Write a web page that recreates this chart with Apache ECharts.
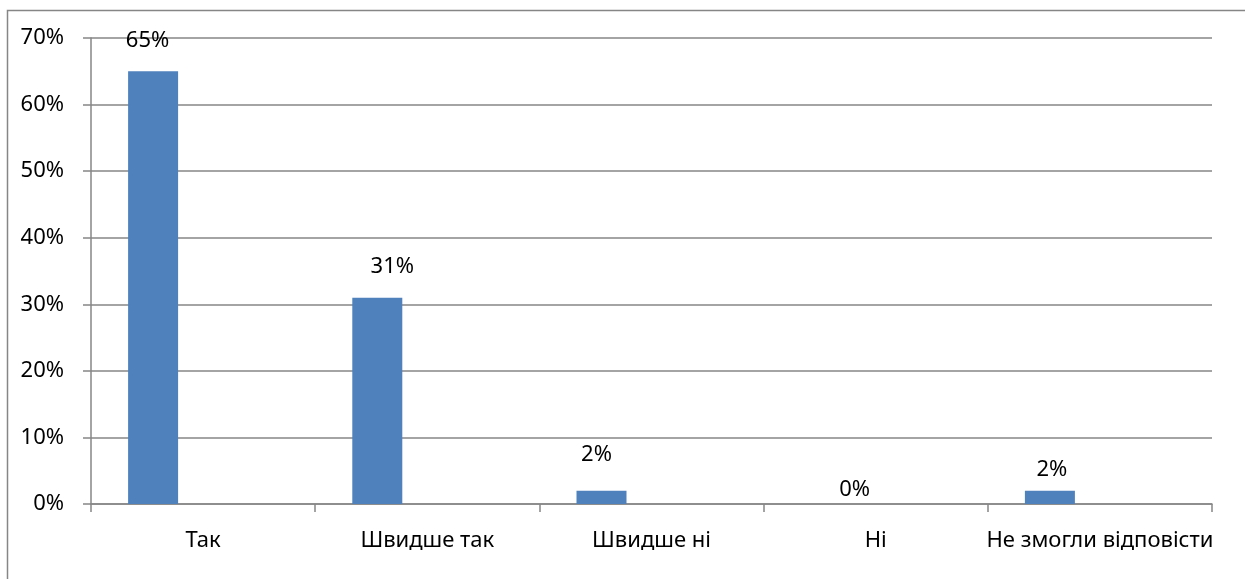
<!DOCTYPE html>
<html>
<head>
<meta charset="utf-8">
<script src="https://cdn.jsdelivr.net/npm/echarts@6/dist/echarts.min.js"></script>
<style>
html,body{margin:0;padding:0;background:#fff;}
#chart{width:1245px;height:579px;}
</style>
</head>
<body>
<div id="chart"></div>
<script>
const categories = ['Так', 'Швидше так', 'Швидше ні', 'Ні', 'Не змогли відповісти'];
const values = [65, 31, 2, 0, 2];
const yTicks = [0, 10, 20, 30, 40, 50, 60, 70];

// label placement nudges (style only): [dx, centre height above bar top]
const labelNudge = [[-5.5, 31], [15, 31], [-5, 36], [29, 14], [2, 21]];

const FONT = '"Noto Sans", "DejaVu Sans", sans-serif';
const FS = 22;
const LH = 26;
const grey = '#868686';

const chart = echarts.init(document.getElementById('chart'), null, {renderer: 'canvas'});

const mainData = values.map((v, i) => ({
  value: v,
  label: {
    show: true,
    position: 'top',
    distance: 0,
    offset: [labelNudge[i][0], -(labelNudge[i][1] - LH / 2)],
    formatter: (p) => p.value + '%',
    color: '#000',
    fontFamily: FONT,
    fontSize: FS,
    lineHeight: LH
  }
}));
const empty = values.map(() => null);

chart.setOption({
  animation: false,
  backgroundColor: '#fff',
  graphic: [{
    type: 'rect',
    shape: {x: 7.5, y: 10.5, width: 1400, height: 800},
    style: {fill: 'none', stroke: grey, lineWidth: 1.5},
    silent: true,
    z: -1
  }],
  grid: {left: 91, right: 33, top: 38, bottom: 75, containLabel: false},
  xAxis: {
    type: 'category',
    data: categories,
    boundaryGap: true,
    axisLine: {show: true, lineStyle: {color: grey, width: 1.5}},
    axisTick: {show: true, length: 8, lineStyle: {color: grey, width: 1.5}},
    axisLabel: {color: '#000', fontFamily: FONT, fontSize: FS, lineHeight: LH, margin: 24, interval: 0},
    splitLine: {show: false}
  },
  yAxis: {
    type: 'value',
    min: yTicks[0],
    max: yTicks[yTicks.length - 1],
    interval: 10,
    axisLine: {show: true, lineStyle: {color: grey, width: 1.5}},
    axisTick: {show: true, length: 8, lineStyle: {color: grey, width: 1.5}},
    axisLabel: {color: '#000', fontFamily: FONT, fontSize: FS, lineHeight: LH, padding: [6, 0, 0, 0], margin: 27, formatter: (v) => v + '%'},
    splitLine: {show: true, lineStyle: {color: grey, width: 1.5}}
  },
  series: [
    {type: 'bar', data: mainData, barWidth: 50, barGap: '0%', itemStyle: {color: '#4F81BD'}},
    {type: 'bar', data: empty, barWidth: 50, barGap: '0%', itemStyle: {color: '#C0504D'}},
    {type: 'bar', data: empty, barWidth: 50, barGap: '0%', itemStyle: {color: '#9BBB59'}}
  ]
});
</script>
</body>
</html>
